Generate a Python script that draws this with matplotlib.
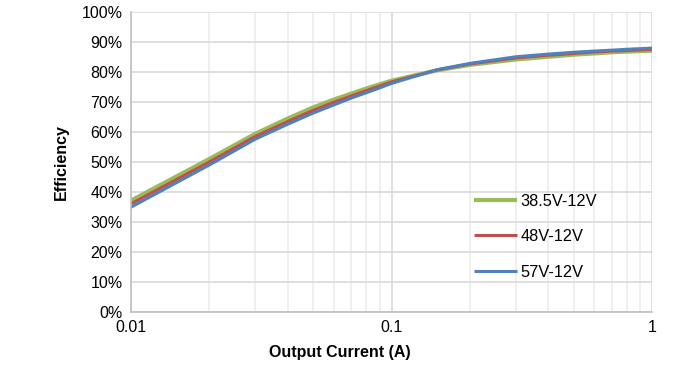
import numpy as np
import matplotlib.pyplot as plt
from matplotlib.ticker import FixedLocator, NullFormatter

plt.rcParams['font.family'] = ['Liberation Sans', 'DejaVu Sans']

# -------------------------------
# DATA
# -------------------------------
current = [0.01, 0.02, 0.03, 0.04, 0.05, 0.06, 0.07, 0.08, 0.09, 0.1,
           0.15, 0.2, 0.3, 0.4, 0.5, 0.6, 0.7, 0.8, 0.9, 1.0]
eff_385 = [37.1, 51.0, 59.4, 64.5, 68.2, 70.8, 72.8, 74.5, 75.9, 77.1,
           80.6, 82.4, 84.2, 85.1, 85.8, 86.2, 86.6, 86.8, 87.0, 87.1]
eff_48  = [36.0, 50.0, 58.5, 63.5, 67.2, 69.9, 72.0, 73.8, 75.3, 76.7,
           80.7, 82.7, 84.7, 85.6, 86.2, 86.7, 87.0, 87.2, 87.4, 87.6]
eff_57  = [34.9, 49.0, 57.6, 62.6, 66.3, 69.0, 71.3, 73.1, 74.7, 76.2,
           80.8, 82.9, 85.1, 86.0, 86.6, 87.0, 87.3, 87.6, 87.8, 88.0]

labels = ["38.5V-12V", "48V-12V", "57V-12V"]
colors = ["#9BBB59", "#C0504D", "#4F81BD"]
widths = [3.0, 2.2, 2.2]

# -------------------------------
# PLOT
# -------------------------------
fig = plt.figure(figsize=(6.96, 3.78), dpi=100)
ax = fig.add_axes([0.188, 0.175, 0.749, 0.793])

for y, lab, c, w in zip([eff_385, eff_48, eff_57], labels, colors, widths):
    ax.plot(current, y, color=c, lw=w, label=lab, solid_capstyle='butt',
            solid_joinstyle='round')

ax.set_xscale('log')
ax.set_xlim(0.01, 1)
ax.set_ylim(0, 100)

ax.set_yticks(np.arange(0, 101, 10))
ax.set_yticklabels([f"{v}%" for v in range(0, 101, 10)])
ax.xaxis.set_major_locator(FixedLocator([0.01, 0.1, 1]))
ax.set_xticklabels(["0.01", "0.1", "1"])
minor = [m * d for d in (0.01, 0.1) for m in range(2, 10)]
ax.xaxis.set_minor_locator(FixedLocator(minor))
ax.xaxis.set_minor_formatter(NullFormatter())

ax.grid(True, which='major', color='#d9d9d9', lw=1.2)
ax.grid(True, which='minor', axis='x', color='#ececec', lw=1.2)
ax.set_axisbelow(True)

for s in ['top', 'right']:
    ax.spines[s].set_visible(False)
for s in ['left', 'bottom']:
    ax.spines[s].set_color('#bfbfbf')
    ax.spines[s].set_linewidth(1.2)

ax.tick_params(which='both', length=0, labelsize=11.5, pad=6)

ax.set_xlabel("Output Current (A)", fontsize=11.5, fontweight='bold')
ax.xaxis.set_label_coords(0.401, -0.11)
ax.set_ylabel("Efficiency", fontsize=11.5, fontweight='bold', labelpad=9)

leg = ax.legend(loc='lower left', bbox_to_anchor=(0.63, 0.058), frameon=False,
                fontsize=11.8, handlelength=2.6, handletextpad=0.25,
                labelspacing=1.25)

fig.savefig("out.png", dpi=100)
